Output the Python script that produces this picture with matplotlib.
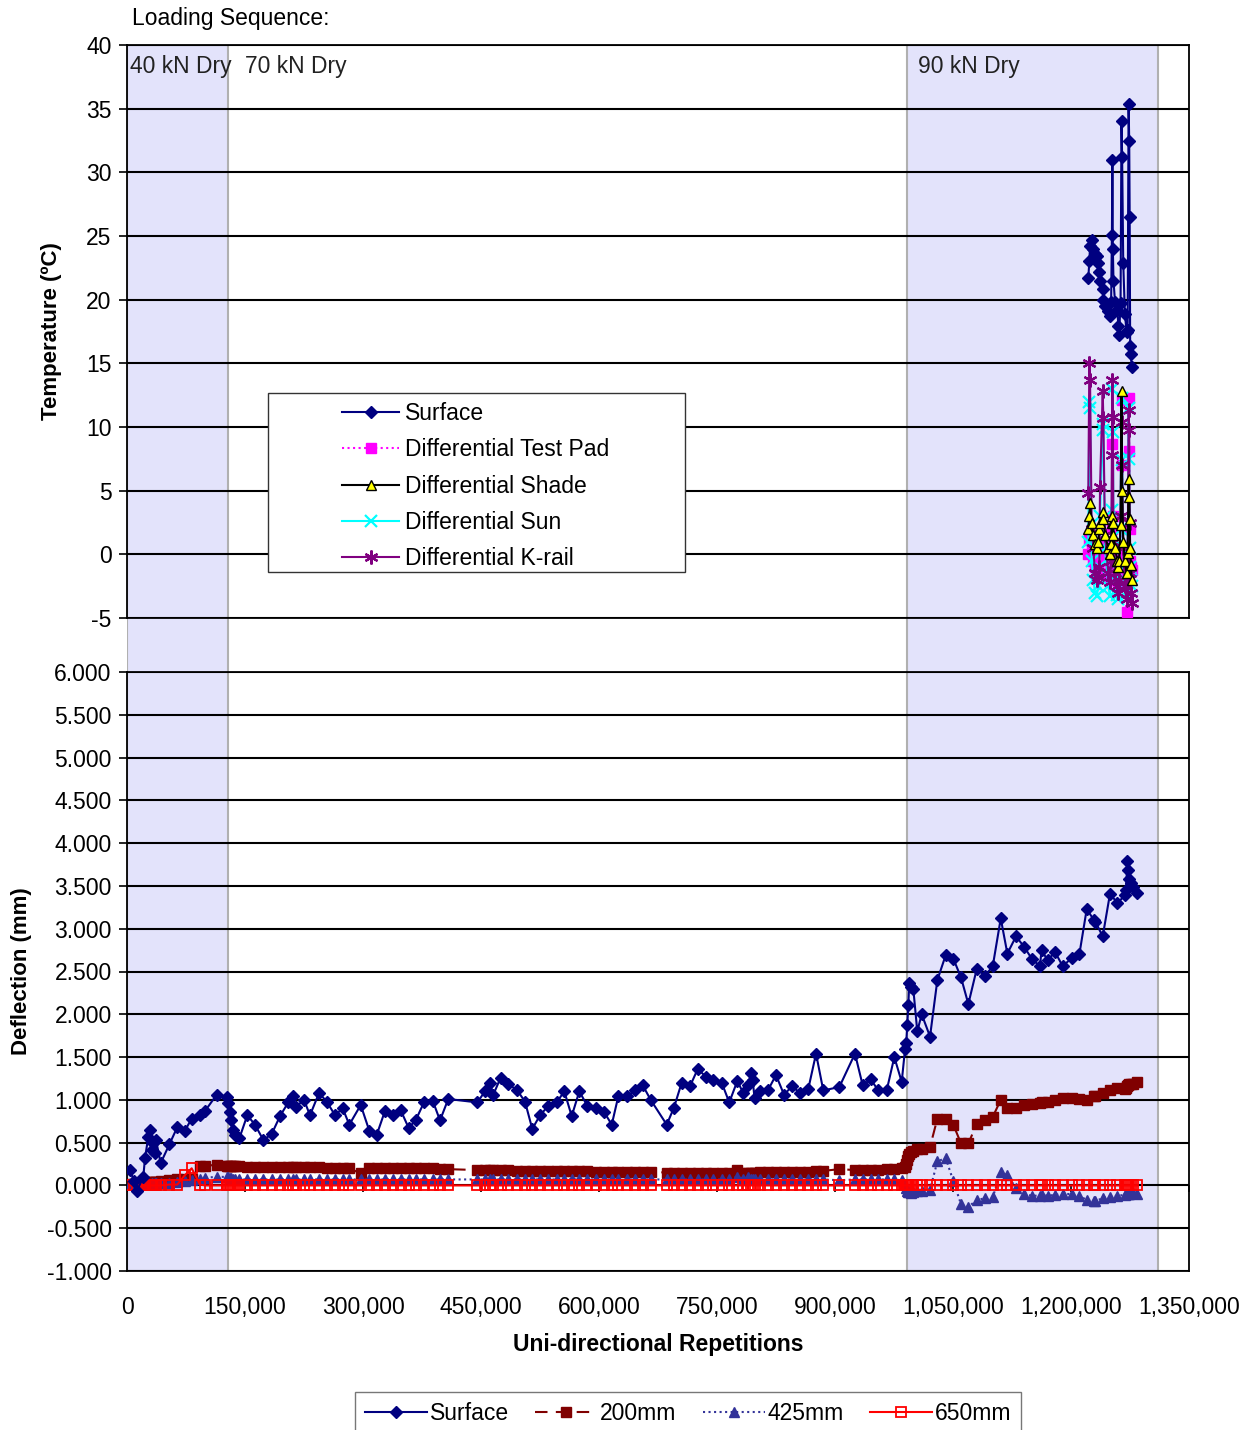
import matplotlib
matplotlib.use('Agg')
import matplotlib.pyplot as plt
from matplotlib.patches import Rectangle
from matplotlib.ticker import FuncFormatter
from matplotlib.transforms import blended_transform_factory
import numpy as np

plt.rcParams['font.family'] = ['Liberation Sans', 'DejaVu Sans']
plt.rcParams['axes.unicode_minus'] = False

# loading sequence (repetitions)
phase_names = ['40 kN Dry', '70 kN Dry', '90 kN Dry']
phase_start = [0, 128400, 991500]
phase_end = [128400, 991500, 1310600]
phase_shaded = [True, False, True]
phase_label_x = [4000, 150000, 1005000]

# ---- deflection data (repetitions in thousands) ----
defl_reps_k = [
    3.8, 8.9, 12.3, 20.7, 22.9, 27.1, 29.2, 31.4, 33.4, 35.6,
    36.9, 42.8, 53.8, 63.9, 73.6, 82.2, 92.8, 99.2, 114.0, 126.7,
    129.0, 130.9, 132.8, 134.4, 137.3, 142.8, 152.9, 162.7, 173.3, 183.9,
    194.5, 205.0, 211.4, 214.8, 225.0, 232.6, 244.1, 253.9, 264.4, 274.2,
    282.6, 297.1, 308.0, 317.4, 327.9, 338.5, 347.9, 358.1, 367.4, 377.5,
    388.6, 397.9, 408.4, 445.3, 455.1, 461.4, 465.6, 475.0, 484.7, 495.4,
    505.9, 515.2, 525.0, 535.6, 546.2, 555.9, 565.3, 575.0, 585.1, 595.8,
    606.4, 616.2, 624.5, 635.2, 645.8, 655.6, 665.7, 686.1, 695.3, 705.1,
    715.7, 725.5, 736.0, 745.3, 756.0, 765.6, 775.8, 783.4, 789.8, 792.8,
    795.4, 797.7, 804.7, 815.2, 825.0, 835.2, 845.4, 855.5, 866.1, 875.9,
    885.1, 905.5, 925.4, 935.2, 945.4, 955.0, 965.7, 975.4, 984.8, 989.0,
    990.5, 991.9, 993.2, 994.4, 996.2, 999.5, 1004.6, 1010.2, 1020.8, 1030.1,
    1040.7, 1050.4, 1060.2, 1069.5, 1080.2, 1090.7, 1100.5, 1110.7, 1119.1, 1130.1,
    1140.3, 1150.1, 1160.6, 1162.5, 1170.4, 1179.7, 1189.5, 1200.9, 1210.6, 1220.0,
    1229.2, 1231.1, 1240.3, 1249.6, 1258.9, 1268.7, 1270.0, 1271.6, 1272.9, 1274.1,
    1275.9, 1279.2, 1284.3]

defl_surface = [
    0.18, 0.05, -0.07, 0.10, 0.32, 0.57, 0.65, 0.41, 0.49, 0.38,
    0.53, 0.26, 0.48, 0.68, 0.64, 0.78, 0.82, 0.87, 1.06, 1.03,
    0.96, 0.86, 0.76, 0.65, 0.59, 0.55, 0.82, 0.71, 0.53, 0.60,
    0.81, 0.97, 1.04, 0.92, 1.00, 0.82, 1.08, 0.98, 0.82, 0.90,
    0.71, 0.94, 0.64, 0.59, 0.87, 0.82, 0.88, 0.67, 0.77, 0.97,
    0.99, 0.76, 1.01, 0.97, 1.10, 1.20, 1.06, 1.26, 1.18, 1.12,
    0.98, 0.66, 0.82, 0.93, 0.97, 1.10, 0.81, 1.10, 0.93, 0.91,
    0.86, 0.71, 1.04, 1.04, 1.11, 1.17, 1.00, 0.71, 0.91, 1.20,
    1.16, 1.36, 1.27, 1.23, 1.20, 0.97, 1.22, 1.08, 1.17, 1.31,
    1.23, 1.02, 1.10, 1.12, 1.29, 1.06, 1.16, 1.08, 1.13, 1.54,
    1.11, 1.15, 1.54, 1.17, 1.24, 1.11, 1.11, 1.50, 1.21, 1.59,
    1.66, 1.88, 2.11, 2.37, 2.32, 2.30, 1.80, 2.00, 1.74, 2.40,
    2.69, 2.65, 2.43, 2.12, 2.53, 2.45, 2.56, 3.12, 2.71, 2.91,
    2.79, 2.65, 2.56, 2.75, 2.63, 2.73, 2.56, 2.66, 2.70, 3.23,
    3.10, 3.08, 2.91, 3.41, 3.30, 3.39, 3.45, 3.79, 3.69, 3.58,
    3.53, 3.49, 3.42]

defl_200 = [
    0.02, 0.02, 0.02, 0.03, 0.03, 0.03, 0.04, 0.04, 0.04, 0.04,
    0.04, 0.05, 0.06, 0.07, 0.07, 0.08, 0.23, 0.23, 0.24, 0.23,
    0.23, 0.23, 0.23, 0.23, 0.23, 0.23, 0.22, 0.22, 0.22, 0.22,
    0.21, 0.21, 0.21, 0.21, 0.21, 0.21, 0.21, 0.20, 0.20, 0.20,
    0.20, 0.14, 0.20, 0.20, 0.20, 0.20, 0.20, 0.20, 0.20, 0.20,
    0.20, 0.19, 0.19, 0.18, 0.18, 0.18, 0.18, 0.18, 0.18, 0.17,
    0.17, 0.17, 0.17, 0.17, 0.17, 0.17, 0.17, 0.17, 0.17, 0.16,
    0.16, 0.16, 0.16, 0.16, 0.16, 0.16, 0.16, 0.15, 0.15, 0.15,
    0.14, 0.14, 0.14, 0.14, 0.14, 0.14, 0.18, 0.15, 0.15, 0.15,
    0.15, 0.15, 0.16, 0.16, 0.16, 0.16, 0.16, 0.16, 0.16, 0.17,
    0.17, 0.19, 0.18, 0.18, 0.18, 0.18, 0.19, 0.19, 0.20, 0.21,
    0.25, 0.30, 0.34, 0.37, 0.39, 0.40, 0.42, 0.43, 0.45, 0.78,
    0.78, 0.71, 0.49, 0.49, 0.72, 0.77, 0.80, 1.00, 0.90, 0.90,
    0.94, 0.95, 0.96, 0.97, 0.98, 1.00, 1.02, 1.02, 1.01, 1.00,
    1.04, 1.05, 1.08, 1.12, 1.14, 1.13, 1.14, 1.16, 1.17, 1.18,
    1.19, 1.19, 1.21]

defl_425 = [
    0.02, 0.03, 0.01, 0.02, 0.02, 0.03, 0.02, 0.03, 0.02, 0.03,
    0.03, 0.03, 0.03, 0.04, 0.05, 0.06, 0.07, 0.09, 0.10, 0.10,
    0.10, 0.09, 0.09, 0.08, 0.08, 0.07, 0.07, 0.07, 0.07, 0.07,
    0.07, 0.07, 0.07, 0.07, 0.07, 0.07, 0.07, 0.07, 0.07, 0.07,
    0.07, 0.07, 0.07, 0.07, 0.07, 0.07, 0.07, 0.07, 0.07, 0.07,
    0.07, 0.07, 0.07, 0.07, 0.07, 0.07, 0.07, 0.07, 0.07, 0.07,
    0.07, 0.07, 0.07, 0.07, 0.07, 0.07, 0.07, 0.07, 0.07, 0.07,
    0.07, 0.07, 0.07, 0.07, 0.07, 0.07, 0.07, 0.07, 0.07, 0.07,
    0.07, 0.07, 0.07, 0.07, 0.07, 0.08, 0.10, 0.08, 0.10, 0.07,
    0.07, 0.07, 0.07, 0.07, 0.07, 0.07, 0.07, 0.07, 0.07, 0.07,
    0.07, 0.06, 0.07, 0.07, 0.07, 0.07, 0.07, 0.07, 0.06, 0.02,
    -0.03, -0.06, -0.08, -0.08, -0.09, -0.08, -0.07, -0.06, -0.05, 0.28,
    0.32, 0.05, -0.22, -0.25, -0.17, -0.15, -0.14, 0.16, 0.12, -0.03,
    -0.10, -0.12, -0.12, -0.11, -0.12, -0.11, -0.10, -0.10, -0.12, -0.17,
    -0.18, -0.18, -0.15, -0.13, -0.12, -0.11, -0.10, -0.10, -0.10, -0.10,
    -0.09, -0.09, -0.10]

defl_650 = [
    0.00, 0.00, 0.00, 0.00, 0.00, 0.00, 0.00, 0.00, 0.00, 0.00,
    0.00, 0.00, 0.01, 0.01, 0.12, 0.20, 0.01, 0.00, 0.00, 0.00,
    0.00, 0.00, 0.00, 0.00, 0.00, 0.00, 0.00, 0.00, 0.00, 0.00,
    0.00, 0.00, 0.00, 0.00, 0.00, 0.00, 0.00, 0.00, 0.00, 0.00,
    0.00, 0.00, 0.00, 0.00, 0.00, 0.00, 0.00, 0.00, 0.00, 0.00,
    0.00, 0.00, 0.00, 0.00, 0.00, 0.00, 0.00, 0.00, 0.00, 0.00,
    0.00, 0.00, 0.00, 0.00, 0.00, 0.00, 0.00, 0.00, 0.00, 0.00,
    0.00, 0.00, 0.00, 0.00, 0.00, 0.00, 0.00, 0.00, 0.00, 0.00,
    0.00, 0.00, 0.00, 0.00, 0.00, 0.00, 0.00, 0.00, 0.00, 0.00,
    0.00, 0.00, 0.00, 0.00, 0.00, 0.00, 0.00, 0.00, 0.00, 0.00,
    0.00, 0.00, 0.00, 0.00, 0.00, 0.00, 0.00, 0.00, 0.00, 0.00,
    0.00, 0.00, 0.00, 0.00, 0.00, 0.00, 0.00, 0.00, 0.00, 0.00,
    0.00, 0.00, 0.00, 0.00, 0.00, 0.00, 0.00, 0.00, 0.00, 0.00,
    0.00, 0.00, 0.00, 0.00, 0.00, 0.00, 0.00, 0.00, 0.00, 0.00,
    0.00, 0.00, 0.00, 0.00, 0.00, 0.00, 0.00, 0.00, 0.00, 0.00,
    0.00, 0.00, 0.00]

# ---- temperature data (repetitions in thousands) ----
temp_reps_k = [
    1222.0, 1223.3, 1224.2, 1226.3, 1228.4, 1230.5, 1232.7, 1234.7, 1236.0, 1236.9,
    1240.3, 1241.1, 1243.2, 1247.4, 1249.6, 1251.0, 1252.0, 1252.6, 1253.2, 1254.0,
    1256.0, 1258.9, 1260.2, 1261.1, 1263.0, 1264.2, 1265.0, 1266.4, 1268.5, 1270.6,
    1272.0, 1273.2, 1274.0, 1274.6, 1275.2, 1276.2, 1277.0]
temp_surface = [
    21.7, 23.0, 24.2, 24.7, 24.0, 23.6, 23.4, 22.9, 22.2, 21.5,
    20.8, 20.0, 19.5, 19.1, 18.7, 19.8, 25.1, 31.0, 24.0, 21.5,
    19.8, 19.2, 17.9, 17.2, 19.7, 34.0, 31.2, 22.9, 18.9, 17.5,
    17.6, 35.4, 32.5, 26.5, 16.4, 15.7, 14.7]
diff_test_pad = [
    0.0, 1.1, 1.5, 0.5, -0.5, -1.0, -1.5, -0.8, 0.2, 0.8,
    1.0, 0.5, -0.5, -1.5, -2.0, -1.0, 2.0, 8.7, 3.0, 0.0,
    -1.0, -2.0, -2.5, -1.5, 0.5, 12.1, 7.0, 0.0, -2.0, -4.5,
    -1.0, 12.3, 8.1, 2.0, -0.5, -1.0, -1.2]
diff_shade = [
    2.0, 3.0, 4.0, 2.5, 1.5, 0.8, 0.5, 1.0, 2.0, 2.5,
    3.3, 2.8, 1.5, 0.5, 0.0, 0.8, 2.5, 3.0, 2.5, 1.5,
    0.5, -0.5, -1.0, -0.5, 2.3, 12.8, 5.0, 1.0, -0.5, -1.5,
    0.1, 5.9, 4.5, 2.8, 0.5, -0.8, -2.0]
diff_sun = [
    1.0, 12.0, 11.5, -0.5, -2.0, -3.0, -3.3, -2.5, -1.0, 3.0,
    9.8, 10.2, 0.5, -2.5, -3.3, 0.0, 3.5, 13.0, 9.6, 0.8,
    -2.0, -3.2, -3.5, -2.5, 2.0, 12.3, 7.4, 0.5, -2.0, -3.0,
    -1.5, 11.5, 7.5, 0.5, -1.0, -2.0, -2.5]
diff_krail = [
    4.8, 15.0, 13.7, 2.0, 0.5, -1.5, -2.0, -1.8, -1.0, 5.3,
    12.8, 10.7, 1.5, -1.5, -2.2, -0.5, 7.8, 13.7, 10.8, 1.0,
    -1.5, -2.5, -3.0, -2.0, 3.0, 10.4, 7.0, 0.5, -2.5, -3.5,
    -2.0, 11.3, 9.8, 2.5, -1.5, -3.0, -3.8]

x_ticks = np.arange(0, 1350001, 150000)

W, H = 1255, 1430
fig = plt.figure(figsize=(W / 100, H / 100), dpi=100)
FS = 16.5


def rect(x0, y0, x1, y1):
    return [x0 / W, 1 - y1 / H, (x1 - x0) / W, (y1 - y0) / H]


# shaded loading phases behind both panels
bg = fig.add_axes(rect(127, 45, 1189, 1271), zorder=0)
bg.set_xlim(0, 1350000)
bg.set_ylim(0, 1)
bg.axis('off')
for s, e, sh in zip(phase_start, phase_end, phase_shaded):
    if sh:
        bg.axvspan(s, e, facecolor='#E3E3FB', edgecolor='#B0B0B0', lw=1.5)

# ---------------- top panel: temperature ----------------
ax1 = fig.add_axes(rect(127, 45, 1189, 618), zorder=2)
ax1.patch.set_alpha(0)
ax1.set_xlim(0, 1350000)
ax1.set_ylim(-5, 40)
ax1.set_yticks(np.arange(-5, 41, 5))
ax1.set_xticks([])
ax1.yaxis.grid(True, color='black', lw=1.5)
ax1.set_axisbelow(True)
ax1.tick_params(axis='y', labelsize=FS, length=6, width=1.2, pad=5)
for sp in ax1.spines.values():
    sp.set_linewidth(1.3)

tx = np.array(temp_reps_k) * 1000
h_surf, = ax1.plot(tx, temp_surface, color='#000080', lw=1.5, marker='D', ms=6.5,
                   label='Surface', zorder=6)
h_tp, = ax1.plot(tx, diff_test_pad, color='#FF00FF', lw=1.5, ls=':', marker='s', ms=7,
                 label='Differential Test Pad', zorder=3)
h_sh, = ax1.plot(tx, diff_shade, color='black', lw=1.5, marker='^', ms=7,
                 mfc='#FFFF00', mec='black', label='Differential Shade', zorder=5)
h_sun, = ax1.plot(tx, diff_sun, color='#00FFFF', lw=1.5, marker='x', ms=8, mew=1.6,
                  label='Differential Sun', zorder=4)
h_kr, = ax1.plot(tx, diff_krail, color='#800080', lw=1.5, marker=(6, 2, 0), ms=10,
                 mew=1.6, label='Differential K-rail', zorder=4)

tr = blended_transform_factory(ax1.transData, ax1.transAxes)
for name, xl in zip(phase_names, phase_label_x):
    ax1.text(xl, (618 - 67) / 573, name, transform=tr, fontsize=FS,
             va='center', ha='left', color='#222222')

ax1.add_patch(Rectangle(((268 - 127) / 1062, (618 - 572) / 573), 417 / 1062, 179 / 573,
                        transform=ax1.transAxes, facecolor='white', edgecolor='#333333',
                        lw=1.0, zorder=7))
leg1 = ax1.legend(handles=[h_surf, h_tp, h_sh, h_sun, h_kr], loc='upper left',
                  bbox_to_anchor=((342 - 127) / 1062, (618 - 402) / 573), frameon=False,
                  fontsize=FS, handlelength=2.5, handletextpad=0.25, labelspacing=0.58,
                  borderaxespad=0, borderpad=0)
leg1.set_zorder(8)

# ---------------- bottom panel: deflection ----------------
ax2 = fig.add_axes(rect(127, 672, 1189, 1271), zorder=2)
ax2.patch.set_alpha(0)
ax2.set_xlim(0, 1350000)
ax2.set_ylim(-1, 6)
ax2.set_yticks(np.arange(-1, 6.01, 0.5))
ax2.set_xticks(x_ticks)
ax2.yaxis.grid(True, color='black', lw=1.5)
ax2.set_axisbelow(True)
ax2.yaxis.set_major_formatter(FuncFormatter(lambda v, p: f'{v:.3f}'))
ax2.xaxis.set_major_formatter(FuncFormatter(lambda v, p: f'{v:,.0f}'))
ax2.tick_params(axis='y', labelsize=FS, length=6, width=1.2, pad=5)
ax2.tick_params(axis='x', labelsize=FS, length=0, pad=18)
for sp in ax2.spines.values():
    sp.set_linewidth(1.3)
# small tick marks on the zero line
ax2.plot(x_ticks, np.zeros(len(x_ticks)), ls='none', marker=3, ms=5, mew=1.2,
         color='black', zorder=2)

dx = np.array(defl_reps_k) * 1000
g_surf, = ax2.plot(dx, defl_surface, color='#000080', lw=1.5, marker='D', ms=6.5,
                   label='Surface', zorder=6)
g_200, = ax2.plot(dx, defl_200, color='#800000', lw=1.5, ls=(0, (6, 4)), marker='s', ms=7.5,
                  label='200mm', zorder=3)
g_425, = ax2.plot(dx, defl_425, color='#333399', lw=1.5, ls=':', marker='^', ms=7,
                  label='425mm', zorder=4)
g_650, = ax2.plot(dx, defl_650, color='#FF0000', lw=1.5, marker='s', ms=6.5, mfc='none',
                  mew=1.3, label='650mm', zorder=5)

# axis titles and header
fig.text(132 / W, 1 - 18 / H, 'Loading Sequence:', fontsize=FS, va='center', ha='left')
fig.text(52 / W, 1 - 331 / H, 'Temperature (ºC)', fontsize=16, fontweight='bold',
         rotation=90, va='center', ha='center')
fig.text(22 / W, 1 - 971 / H, 'Deflection (mm)', fontsize=16, fontweight='bold',
         rotation=90, va='center', ha='center')
fig.text(658 / W, 1 - 1345 / H, 'Uni-directional Repetitions', fontsize=16.5,
         fontweight='bold', va='center', ha='center')

leg2 = fig.legend(handles=[g_surf, g_200, g_425, g_650], loc='upper left',
                  bbox_to_anchor=(355 / W, 1 - 1392 / H), ncol=4, fontsize=FS,
                  handlelength=2.7, handletextpad=0.12, columnspacing=1.15,
                  borderpad=0.45, borderaxespad=0, fancybox=False, edgecolor='#555555')
leg2.get_frame().set_linewidth(1.0)

fig.savefig('out.png', dpi=100)
